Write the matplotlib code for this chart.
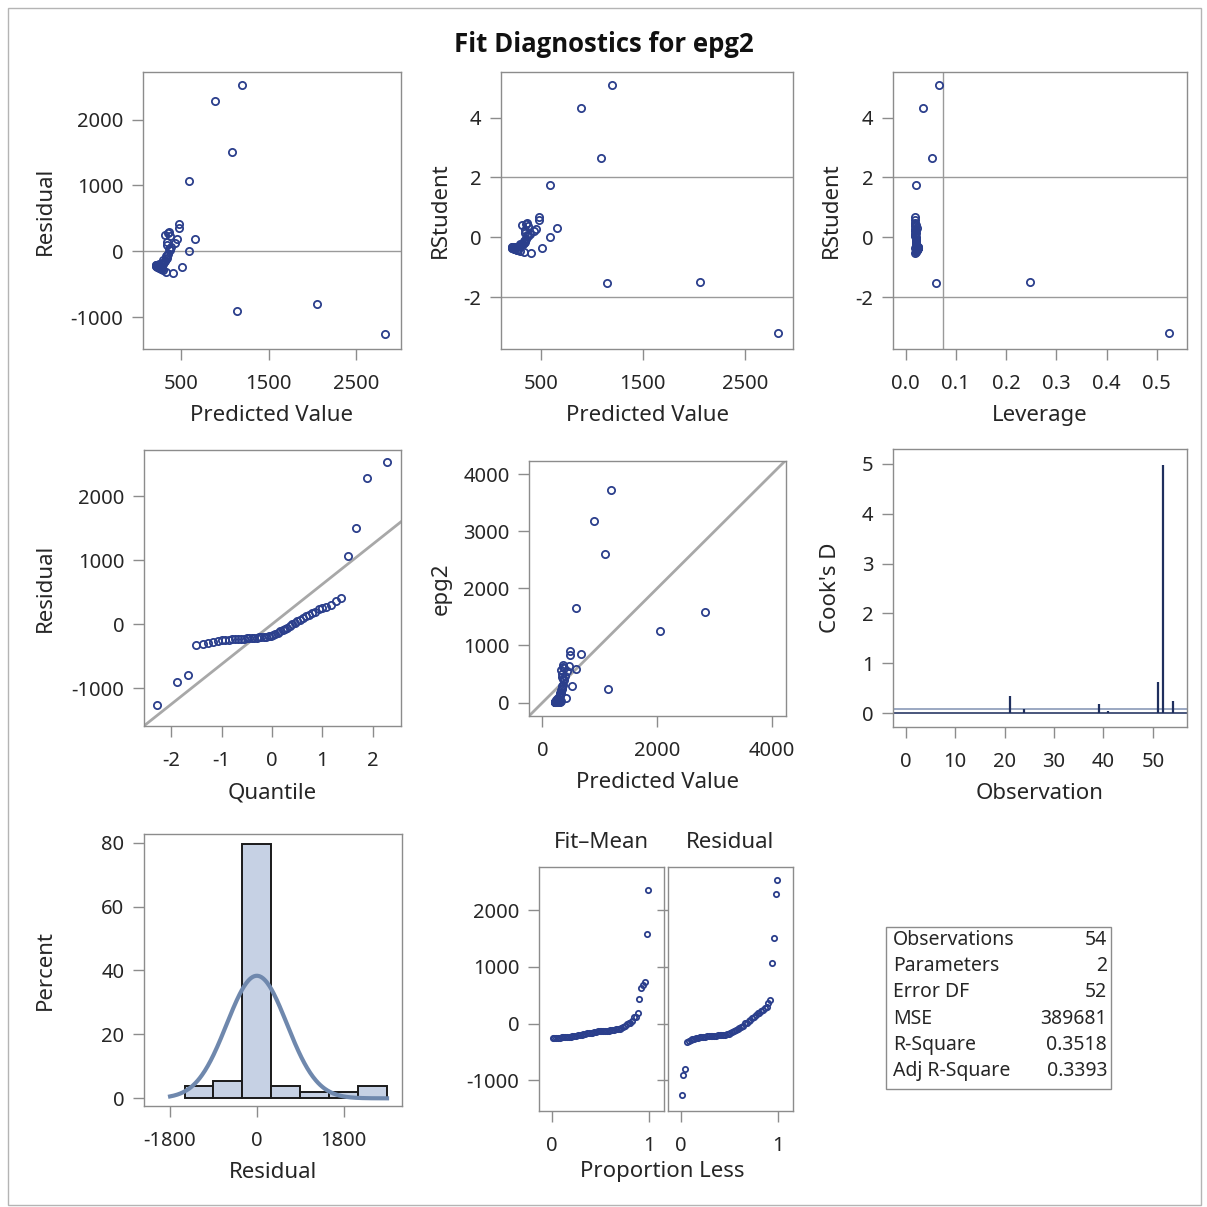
import numpy as np
import matplotlib
matplotlib.use('Agg')
import matplotlib.pyplot as plt
from matplotlib.patches import Rectangle
from statistics import NormalDist

plt.rcParams['font.family'] = ['Noto Sans', 'DejaVu Sans']
plt.rcParams['axes.unicode_minus'] = False

# per observation values (obs 1..54)
pred = [270, 375, 228, 300, 318, 212, 330, 240, 219, 340,
        255, 320, 405, 364, 250, 455, 225, 350, 290, 360,
        2057, 330, 663, 1144, 216, 335, 515, 481, 262, 230,
        310, 430, 232, 591, 300, 345, 280, 340, 1087, 222,
        591, 481, 240, 390, 245, 300, 214, 375, 270, 345,
        1193, 2830, 355, 894]
resid = [-262, 20, -226, -288, 247, -208, -112, -236, -217, 100,
         -197, -150, -329, 292, -246, 182, -223, -35, -187, 45,
         -798, -310, 192, -904, -214, -75, -232, 360, -254, -205,
         -165, 125, -229, 5, -178, 150, -272, -95, 1505, -220,
         1065, 414, -201, 70, -240, -130, -211, 230, -192, -55,
         2526, -1253, 275, 2288]
rstudent = [-0.42, 0.03, -0.36, -0.46, 0.40, -0.34, -0.18, -0.38, -0.35, 0.16,
            -0.32, -0.24, -0.53, 0.47, -0.40, 0.29, -0.36, -0.06, -0.30, 0.07,
            -1.48, -0.50, 0.31, -1.52, -0.35, -0.12, -0.37, 0.58, -0.41, -0.33,
            -0.27, 0.20, -0.37, 0.01, -0.29, 0.24, -0.44, -0.15, 2.65, -0.35,
            1.76, 0.67, -0.32, 0.11, -0.39, -0.21, -0.34, 0.37, -0.31, -0.09,
            5.07, -3.20, 0.44, 4.31]
leverage = [0.0221, 0.0193, 0.0238, 0.0211, 0.0206, 0.0246, 0.0203, 0.0233, 0.0242, 0.0200,
            0.0227, 0.0205, 0.0189, 0.0195, 0.0229, 0.0185, 0.0240, 0.0198, 0.0214, 0.0196,
            0.2475, 0.0203, 0.0219, 0.0598, 0.0244, 0.0202, 0.0187, 0.0185, 0.0224, 0.0237,
            0.0208, 0.0186, 0.0236, 0.0198, 0.0211, 0.0199, 0.0218, 0.0200, 0.0531, 0.0241,
            0.0198, 0.0185, 0.0233, 0.0191, 0.0231, 0.0211, 0.0245, 0.0193, 0.0221, 0.0199,
            0.0660, 0.5250, 0.0197, 0.0348]
cooksd = [0.002, 0.000, 0.002, 0.002, 0.002, 0.001, 0.000, 0.002, 0.002, 0.000,
          0.001, 0.001, 0.003, 0.002, 0.002, 0.001, 0.002, 0.000, 0.001, 0.000,
          0.35, 0.003, 0.001, 0.08, 0.002, 0.000, 0.001, 0.003, 0.002, 0.001,
          0.001, 0.000, 0.002, 0.000, 0.001, 0.001, 0.002, 0.000, 0.18, 0.002,
          0.04, 0.004, 0.001, 0.000, 0.002, 0.000, 0.001, 0.001, 0.001, 0.000,
          0.62, 4.97, 0.002, 0.25]

stat_names = ['Observations', 'Parameters', 'Error DF', 'MSE', 'R-Square', 'Adj R-Square']
stat_values = ['54', '2', '52', '389681', '0.3518', '0.3393']
mse = 389681
n = len(pred)

pred = np.array(pred, float)
resid = np.array(resid, float)
epg2 = pred + resid
obs = np.arange(1, n + 1)

W = H = 1207
fig = plt.figure(figsize=(W / 100, H / 100), dpi=100)
fig.set_facecolor('white')
fig.patches.append(Rectangle((8 / W, 2 / H), 1193 / W, 1197 / H, transform=fig.transFigure,
                             fill=False, edgecolor='#b4b4b4', linewidth=1))

MK = '#2b3f8c'
REF = '#9a9a9a'
TXT = '#262626'


def ax_px(l, t, r, b):
    ax = fig.add_axes([l / W, 1 - b / H, (r - l) / W, (b - t) / H])
    ax.px = (l, r)
    for s in ax.spines.values():
        s.set_color('#8c8c8c')
        s.set_linewidth(1.0)
    ax.tick_params(direction='out', length=8, width=1, color='#8c8c8c', pad=6,
                   labelsize=14.5, labelcolor=TXT)
    ax.tick_params(axis='x', pad=10)
    return ax


def labels(ax, xl=None, yl=None, ylx=None):
    if xl:
        ax.set_xlabel(xl, fontsize=16, color=TXT, labelpad=8)
    if yl:
        ax.set_ylabel(yl, fontsize=16, color=TXT, va='center')
        l, r = ax.px
        ax.yaxis.set_label_coords((ylx - l) / (r - l), 0.5)


def circles(ax, x, y, ms=5.2):
    ax.plot(x, y, 'o', ms=ms, mfc='none', mec=MK, mew=1.3, zorder=3)


fig.text(0.5, 1 - 45 / H, 'Fit Diagnostics for epg2', ha='center', va='center',
         fontsize=18.5, fontweight='bold', color='#111111',
         family=['Open Sans', 'DejaVu Sans'])

# residual vs predicted
ax = ax_px(143, 72, 401, 349)
ax.axhline(0, color=REF, lw=1)
circles(ax, pred, resid)
ax.set_xlim(67, 3012)
ax.set_ylim(-1478, 2720)
ax.set_xticks([500, 1500, 2500])
ax.set_yticks([-1000, 0, 1000, 2000])
labels(ax, 'Predicted Value', 'Residual', 45)

# rstudent vs predicted
ax = ax_px(501, 72, 793, 349)
for v in (-2, 2):
    ax.axhline(v, color=REF, lw=1)
circles(ax, pred, rstudent)
ax.set_xlim(109, 2973)
ax.set_ylim(-3.73, 5.52)
ax.set_xticks([500, 1500, 2500])
ax.set_yticks([-2, 0, 2, 4])
labels(ax, 'Predicted Value', 'RStudent', 440)

# rstudent vs leverage
ax = ax_px(893, 72, 1187, 349)
for v in (-2, 2):
    ax.axhline(v, color=REF, lw=1)
ax.axvline(2 * 2 / n, color=REF, lw=1)
circles(ax, leverage, rstudent)
ax.set_xlim(-0.025, 0.56)
ax.set_ylim(-3.73, 5.52)
ax.set_xticks(np.arange(0, 0.51, 0.1))
ax.set_xticklabels(['0.0', '0.1', '0.2', '0.3', '0.4', '0.5'])
ax.set_yticks([-2, 0, 2, 4])
labels(ax, 'Leverage', 'RStudent', 831)

# QQ plot of residuals
ax = ax_px(144, 450, 401, 726)
srt = np.sort(resid)
qz = [NormalDist().inv_cdf((i - 0.375) / (n + 0.25)) for i in range(1, n + 1)]
sd = np.sqrt(mse)
ax.plot([-2.54, 2.56], [-2.54 * sd, 2.56 * sd], color='#a8a8a8', lw=2)
circles(ax, qz, srt)
ax.set_xlim(-2.54, 2.56)
ax.set_ylim(-1588, 2718)
ax.set_xticks([-2, -1, 0, 1, 2])
ax.set_yticks([-1000, 0, 1000, 2000])
labels(ax, 'Quantile', 'Residual', 45)

# observed vs predicted
ax = ax_px(529, 461, 786, 716)
ax.plot([-235, 4245], [-235, 4245], color='#a8a8a8', lw=2)
circles(ax, pred, epg2)
ax.set_xlim(-235, 4245)
ax.set_ylim(-235, 4228)
ax.set_xticks([0, 2000, 4000])
ax.set_yticks([0, 1000, 2000, 3000, 4000])
labels(ax, 'Predicted Value', 'epg2', 441)

# Cook's D
ax = ax_px(893, 449, 1187, 727)
ax.axhline(0, color='#2a3a66', lw=1.2)
ax.axhline(4 / n, color='#8a9ab8', lw=1.2)
ax.vlines(obs, 0, cooksd, color='#1f2f5e', lw=1.6)
ax.set_xlim(-2.6, 56.9)
ax.set_ylim(-0.28, 5.3)
ax.set_xticks(range(0, 51, 10))
ax.set_yticks(range(0, 6))
labels(ax, 'Observation', "Cook's D", 831)

# histogram of residuals
ax = ax_px(144, 834, 402, 1106)
edges = np.arange(-1500, 2701, 600)
ax.hist(resid, bins=edges, weights=np.full(n, 100 / n), color='#c6d1e4',
        edgecolor='#1a1a1a', linewidth=1.4, zorder=2)
xs = np.linspace(-1800, 2700, 300)
ax.plot(xs, 100 * 600 * np.exp(-xs ** 2 / (2 * mse)) / np.sqrt(2 * np.pi * mse),
        color='#6f88ad', lw=3, zorder=3)
ax.set_xlim(-2341, 3011)
ax.set_ylim(-2.4, 82.7)
ax.set_xticks([-1800, 0, 1800])
ax.set_yticks([0, 20, 40, 60, 80])
labels(ax, 'Residual', 'Percent', 45)

# residual-fit spread plot
prop = (np.arange(1, n + 1) - 0.5) / n
axl = ax_px(539, 867, 664, 1111)
axr = ax_px(668, 867, 793, 1111)
circles(axl, prop, np.sort(pred - pred.mean()), ms=3.8)
circles(axr, prop, np.sort(resid), ms=3.8)
for a, t in ((axl, 'Fit\u2013Mean'), (axr, 'Residual')):
    a.set_xlim(-0.13, 1.15)
    a.set_ylim(-1541, 2764)
    a.set_xticks([0, 1])
    a.set_title(t, fontsize=16, color=TXT, pad=14)
axl.set_yticks([-1000, 0, 1000, 2000])
axr.set_yticks([-1000, 0, 1000, 2000])
axr.tick_params(labelleft=False)
fig.text(662 / W, 1 - 1172 / H, 'Proportion Less', ha='center', va='center',
         fontsize=16, color=TXT)

# fit statistics table
fig.patches.append(Rectangle((886 / W, 1 - 1089 / H), 225 / W, 162 / H, transform=fig.transFigure,
                             fill=False, edgecolor='#8c8c8c', linewidth=1))
for i, (nm, v) in enumerate(zip(stat_names, stat_values)):
    y = 1 - (940 + i * 26.2) / H
    fig.text(893 / W, y, nm, ha='left', va='center', fontsize=14, color=TXT)
    fig.text(1107 / W, y, v, ha='right', va='center', fontsize=14, color=TXT)

fig.savefig('out.png', dpi=100, facecolor='white')
